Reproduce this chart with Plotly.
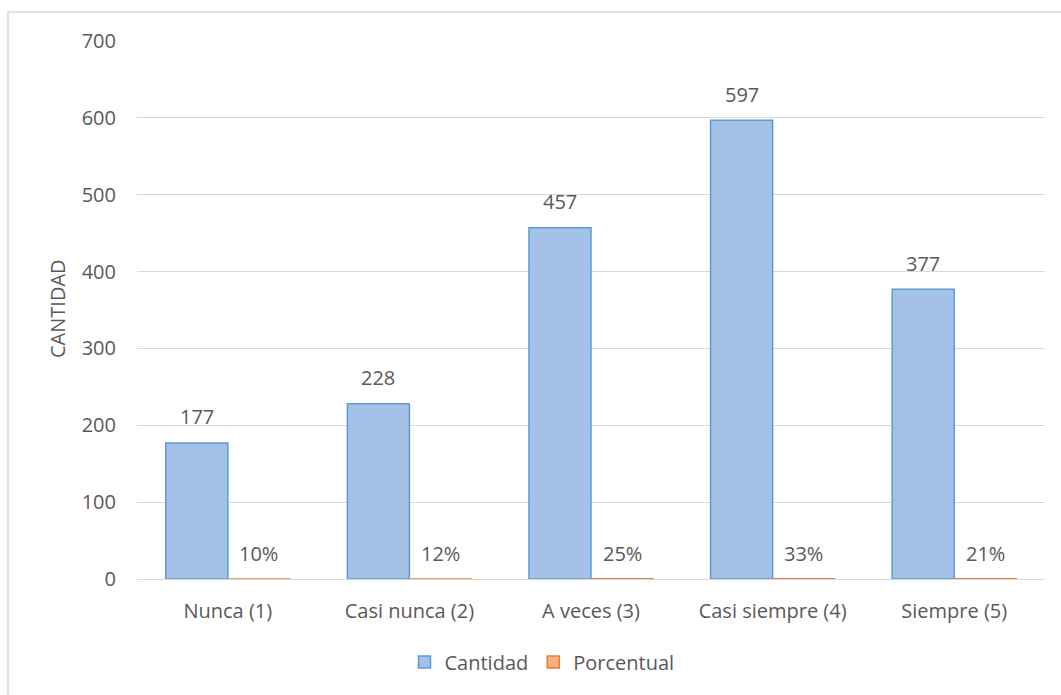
import plotly.graph_objects as go

categories = ["Nunca (1)", "Casi nunca (2)", "A veces (3)", "Casi siempre (4)", "Siempre (5)"]
cantidad = [177, 228, 457, 597, 377]
porcentual = [0.10, 0.12, 0.25, 0.33, 0.21]
porcentual_labels = ["10%", "12%", "25%", "33%", "21%"]
y_ticks = [0, 100, 200, 300, 400, 500, 600, 700]

W, H = 1061, 695
L, R, T, B = 137, 16, 41, 116
pw, ph = W - L - R, H - T - B

FONT = "'Open Sans', sans-serif"
TXT = "#595959"
FS = 20

fig = go.Figure()
fig.add_trace(go.Bar(
    x=categories, y=cantidad, name="Cantidad",
    marker=dict(color="#a4c2e8", line=dict(color="#5b9bd5", width=1.5)),
))
fig.add_trace(go.Bar(
    x=categories, y=porcentual, name="Porcentual",
    marker=dict(color="#f4b183", line=dict(color="#ed7d31", width=1.5)),
))

ann = []
for c, v in zip(categories, cantidad):
    ann.append(dict(x=c, y=v, xref="x", yref="y", text=str(v), showarrow=False,
                    xshift=-31, yshift=26, font=dict(size=FS, color=TXT, family=FONT)))
for c, v, t in zip(categories, porcentual, porcentual_labels):
    ann.append(dict(x=c, y=v, xref="x", yref="y", text=t, showarrow=False,
                    xshift=31, yshift=25, font=dict(size=FS, color=TXT, family=FONT)))
ann.append(dict(x=(57 - L) / pw, y=(579 - 309) / ph, xref="paper", yref="paper", text="CANTIDAD",
                textangle=-90, showarrow=False, xanchor="center", yanchor="middle",
                font=dict(size=FS, color=TXT, family=FONT)))

fig.update_layout(
    width=W, height=H,
    margin=dict(l=L, r=R, t=T, b=B, autoexpand=False),
    paper_bgcolor="white", plot_bgcolor="white",
    barmode="group", bargap=0.317, bargroupgap=0,
    font=dict(family=FONT, color=TXT, size=FS),
    showlegend=True,
    legend=dict(orientation="h", x=0.5 - 49 / pw, xanchor="center", y=-(662 - (T + ph)) / ph,
                yanchor="middle", font=dict(size=FS, color=TXT, family=FONT),
                itemwidth=30, traceorder="normal"),
    annotations=ann,
    xaxis=dict(showgrid=False, showline=False, ticks="", ticklabelstandoff=18,
               tickfont=dict(size=FS, color=TXT, family=FONT)),
    yaxis=dict(range=[0, 700], tickvals=y_ticks, showgrid=True, gridcolor="#d9d9d9",
               gridwidth=1, zeroline=True, zerolinecolor="#d9d9d9", zerolinewidth=1,
               showline=False, ticks="", ticklabelstandoff=20,
               tickfont=dict(size=FS, color=TXT, family=FONT)),
    shapes=[dict(type="path", xref="paper", yref="paper",
                 path=f"M {(8 - L) / pw} {-(H - T - ph) / ph} L {(8 - L) / pw} {1 + (T - 12) / ph} L {(W - L) / pw} {1 + (T - 12) / ph}",
                 line=dict(color="#d9d9d9", width=1.5))],
)

fig.write_html("out.html")
